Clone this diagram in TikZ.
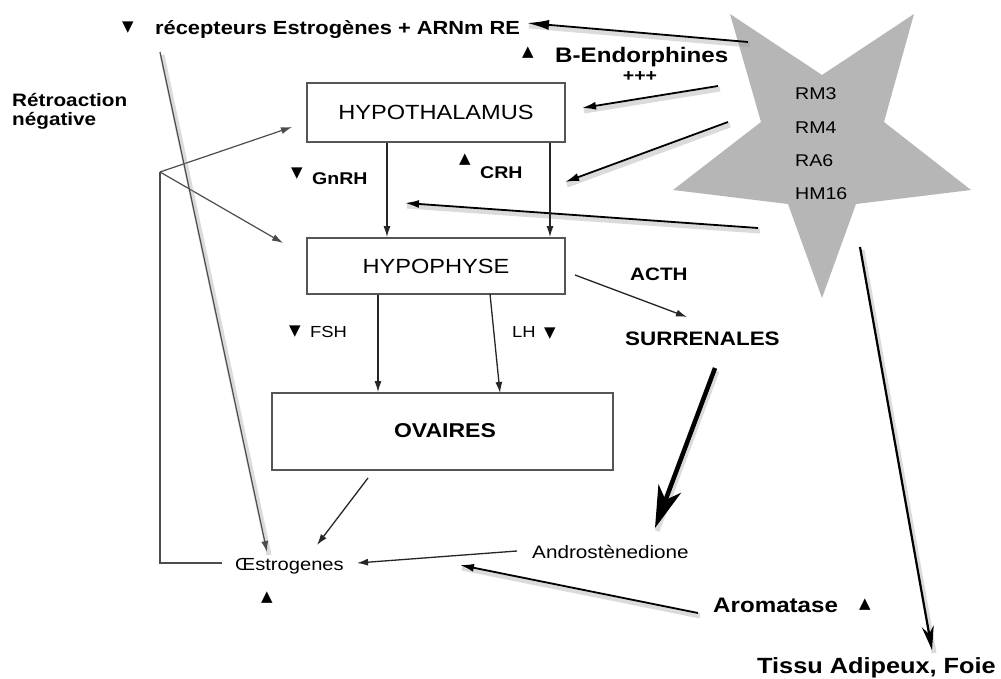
\documentclass[tikz,border=0pt]{standalone}
\usepackage{fontspec}
\setmainfont{Liberation Sans}
\newfontfamily\wf{Liberation Sans}[FakeStretch=1.15]
\newfontfamily\symf{DejaVu Sans}
\usetikzlibrary{arrows.meta,calc}
\definecolor{starg}{RGB}{182,182,182}
\definecolor{boxc}{RGB}{85,85,85}
\newcommand{\fs}[1]{\fontsize{#1}{#1}\selectfont}
\begin{document}
\begin{tikzpicture}[x=1pt,y=-1pt,
  txt/.style={inner sep=0pt, anchor=base west},
  tri/.style={inner sep=0pt, font=\symf\fs{15}},
  box/.style={draw=boxc, line width=1.8pt, inner sep=0pt},
  arr/.style={line width=1.3pt, draw=black!85, -{Latex[length=11pt,width=7pt]}},
  sarr/.style={line width=1.8pt, draw=black, -{Latex[length=14pt,width=8pt]}},
  shad/.style={preaction={draw=black!40, line width=5pt, opacity=0.35, -, transform canvas={shift={(2pt,-3pt)}}}},
  fb/.style={line width=1.2pt, draw=black!70},
]
\useasboundingbox (0,0) rectangle (1001,679);
\fill[white] (0,0) rectangle (1001,679);

% star
\fill[starg] (822,298) -- (856,204) -- (971,190) -- (884,122) -- (914,14) -- (822,75)
  -- (730,14) -- (761,122) -- (673,190) -- (788,204) -- cycle;
\node[txt, font=\wf\fs{17}] (rm3) at (795,100) {RM3};
\node[txt, font=\wf\fs{17}] (rm4) at (795,134) {RM4};
\node[txt, font=\wf\fs{17}] (ra6) at (795,167) {RA6};
\node[txt, font=\wf\fs{17}] (hm16) at (795,200) {HM16};

% top labels
\node[tri] (t1) at (128,28) {▼};
\node[txt, font=\wf\bfseries\fs{19}] (recep) at (155,35) {récepteurs Estrogènes + ARNm RE};
\node[tri] (t2) at (528,53) {▲};
\node[txt, font=\wf\bfseries\fs{21}] (endo) at (555,63) {B-Endorphines};
\node[inner sep=0pt, font=\wf\bfseries\fs{17}] (plus) at (640,77) {+++};
\node[txt, font=\wf\bfseries\fs{18}] (retro1) at (12,107) {Rétroaction};
\node[txt, font=\wf\bfseries\fs{18}] (retro2) at (12,126) {négative};

% boxes
\node[box, minimum width=258pt, minimum height=59pt, font=\wf\fs{20.5}] (hypo) at (436,112.5) {HYPOTHALAMUS};
\node[box, minimum width=258pt, minimum height=56pt, font=\wf\fs{20.5}] (hypoph) at (436,266) {HYPOPHYSE};
\node[box, minimum width=341pt, minimum height=77pt] (ova) at (442.5,431.5) {};
\node[inner sep=0pt, font=\wf\bfseries\fs{20}] (ovat) at (445,431) {OVAIRES};

% hormone labels
\node[tri] (t3) at (297,174) {▼};
\node[txt, font=\wf\bfseries\fs{17}] (gnrh) at (312,185) {GnRH};
\node[tri] (t4) at (465,160) {▲};
\node[txt, font=\wf\bfseries\fs{17}] (crh) at (480,179) {CRH};
\node[tri] (t5) at (295,332) {▼};
\node[txt, font=\wf\fs{16}] (fsh) at (310,337) {FSH};
\node[txt, font=\wf\fs{16}] (lh) at (512,337) {LH};
\node[tri] (t6) at (550,334) {▼};
\node[txt, font=\wf\bfseries\fs{18}] (acth) at (630,280) {ACTH};
\node[txt, font=\wf\bfseries\fs{19.5}] (surr) at (625,345) {SURRENALES};
\node[txt, font=\wf\fs{17.5}] (oest) at (235,570) {Œstrogenes};
\node[tri] (t7) at (267,598) {▲};
\node[txt, font=\wf\fs{18}] (andro) at (532,558) {Androstènedione};
\node[txt, font=\wf\bfseries\fs{21}] (arom) at (713,612) {Aromatase};
\node[tri] (t8) at (865,605) {▲};
\node[txt, font=\wf\bfseries\fs{22}] (tissu) at (757,673) {Tissu Adipeux, Foie};

% endpoints
\coordinate (s1) at (748,42);   \coordinate (e1) at (527,23);
\coordinate (s2) at (718,86);   \coordinate (e2) at (582,108);
\coordinate (s3) at (728,122);  \coordinate (e3) at (565,182);
\coordinate (s4) at (758,228);  \coordinate (e4) at (405,203);
\coordinate (s5) at (860,247);  \coordinate (e5) at (932,650);
\coordinate (gx) at (387,0);
\coordinate (cx) at (550,0);
\coordinate (fx) at (378,0);
\coordinate (ls) at (490,294);  \coordinate (le) at (500,393);
\coordinate (as) at (575,275);  \coordinate (ae) at (687,317);
\coordinate (ss) at (715,368);  \coordinate (se) at (655,528);
\coordinate (os) at (368,478);  \coordinate (oe) at (317,545);
\coordinate (ds) at (517,551);  \coordinate (de) at (357,563);
\coordinate (ms) at (698,613);  \coordinate (me) at (460,565);
\coordinate (fbw) at (222,563); \coordinate (fbb) at (160,563);
\coordinate (fbt) at (160,172);
\coordinate (h1) at (292,127);  \coordinate (h2) at (283,243);
\coordinate (rs) at (160,52);   \coordinate (re) at (267,552);

% star arrows
\draw[sarr, shad, -{Latex[length=22pt,width=10pt]}] (s1) -- (e1);
\draw[sarr, shad] (s2) -- (e2);
\draw[sarr, shad] (s3) -- (e3);
\draw[sarr, shad] (s4) -- (e4);
\draw[sarr, shad, line width=2.2pt, -{Stealth[length=24pt,width=12pt]}] (s5) -- (e5);

% axis arrows
\draw[arr] (hypo.south -| gx) -- (hypoph.north -| gx);
\draw[arr] (hypo.south -| cx) -- (hypoph.north -| cx);
\draw[arr] (hypoph.south -| fx) -- (ova.north -| fx);
\draw[arr] (ls) -- (le);
\draw[arr] (as) -- (ae);
\draw[shad, line width=4.5pt, -{Stealth[length=42pt,width=24pt,inset=12pt]}] (ss) -- (se);
\draw[arr] (os) -- (oe);
\draw[arr] (ds) -- (de);
\draw[sarr, shad] (ms) -- (me);

% feedback
\draw[fb] (fbw) -- (fbb) -- (fbt);
\draw[fb, -{Latex[length=11pt,width=7pt]}] (fbt) -- (h1);
\draw[fb, -{Latex[length=11pt,width=7pt]}] (fbt) -- (h2);
\draw[fb, shad, -{Latex[length=11pt,width=7pt]}] (rs) -- (re);
\end{tikzpicture}
\end{document}
